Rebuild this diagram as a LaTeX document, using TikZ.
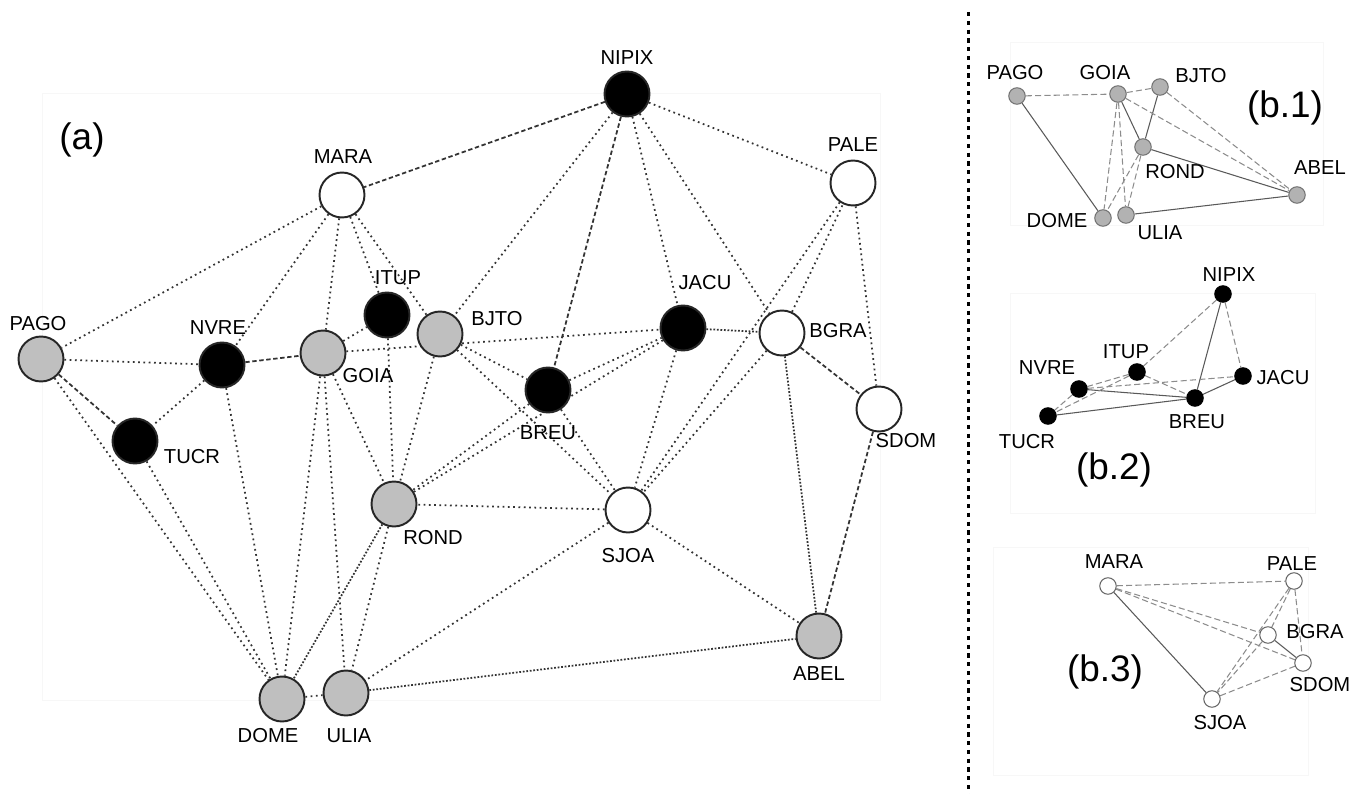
\documentclass[tikz,border=0pt]{standalone}
\usepackage{fontspec}
\setmainfont{Liberation Sans}
\usetikzlibrary{backgrounds}

\begin{document}
\begin{tikzpicture}[x=0.02cm, y=-0.02cm,
  stn/.style={circle, draw=black!85, line width=1.1pt, minimum size=0.9cm, inner sep=0pt},
  gnode/.style={stn, fill=black!25},
  bnode/.style={stn, fill=black},
  wnode/.style={stn, fill=white},
  sml/.style={circle, minimum size=0.33cm, inner sep=0pt, line width=0.6pt},
  gdot/.style={sml, draw=black!55, fill=black!30},
  bdot/.style={sml, draw=black, fill=black},
  wdot/.style={sml, draw=black!60, fill=white},
  lbl/.style={inner sep=0pt, font=\fontsize{11.5}{13}\selectfont},
  panel/.style={inner sep=0pt, font=\fontsize{21}{25}\selectfont},
  lnk/.style={black!80, line width=1pt, dotted},
  lnkd/.style={black!80, line width=1pt, dash pattern=on 2.5pt off 1.5pt},
  lnkx/.style={black!80, line width=1pt, densely dotted},
  sol/.style={black!65, line width=0.6pt},
  dsh/.style={black!45, line width=0.6pt, dash pattern=on 3.5pt off 1.8pt},
  frm/.style={black!3, line width=0.5pt}]
  \useasboundingbox (0,0) rectangle (1357,794);

  % (a) full network
  \node[panel] (ta) at (82,140) {(a)};
  \foreach \n/\x/\y in {PAGO/41/359, GOIA/323/353, BJTO/440/334, ROND/394/504,
                        DOME/282/699, ULIA/346/693, ABEL/819/636}
    \node[gnode] (\n) at (\x,\y) {};
  \foreach \n/\x/\y in {NIPIX/627/94, NVRE/222/365, ITUP/387/315, JACU/683/328,
                        BREU/548/390, TUCR/135/441}
    \node[bnode] (\n) at (\x,\y) {};
  \foreach \n/\x/\y in {MARA/342/195, PALE/853/183, BGRA/782/333, SDOM/879/409, SJOA/628/510}
    \node[wnode] (\n) at (\x,\y) {};

  \foreach \n/\x/\y in {NIPIX/627/58, MARA/343/157, PALE/853/145, PAGO/38/324,
                        NVRE/218/328, GOIA/368/376, ITUP/398/278, BJTO/497/319,
                        JACU/705/283, BGRA/838/331, BREU/548/433, TUCR/192/457,
                        SDOM/906/441, ROND/433/538, SJOA/628/556, ABEL/819/674,
                        DOME/268/736, ULIA/349/736}
    \node[lbl] (l\n) at (\x,\y) {\n};

  \begin{pgfonlayer}{background}
    \draw[frm] (42,93) rectangle (880,700);
    \foreach \a/\b in {NIPIX/BJTO, NIPIX/JACU, NIPIX/BGRA, NIPIX/PALE,
                       MARA/PAGO, MARA/NVRE, MARA/GOIA, MARA/ITUP, MARA/BJTO,
                       PAGO/NVRE, PAGO/DOME, NVRE/TUCR, NVRE/DOME, TUCR/DOME,
                       GOIA/ITUP, GOIA/JACU, GOIA/ROND, GOIA/DOME, GOIA/ULIA,
                       ITUP/ROND, BJTO/ROND, BJTO/BREU, BJTO/SJOA,
                       BREU/JACU, BREU/SJOA, BREU/ROND, JACU/SJOA, JACU/ROND,
                       BGRA/PALE, BGRA/SJOA, PALE/SJOA, PALE/SDOM,
                       SJOA/ROND, SJOA/ULIA, SJOA/ABEL, ROND/ULIA, DOME/ULIA}
      \draw[lnk] (\a) -- (\b);
    \foreach \a/\b in {NIPIX/MARA, NIPIX/BREU, NVRE/GOIA, PAGO/TUCR, BGRA/SDOM, SDOM/ABEL}
      \draw[lnkd] (\a) -- (\b);
    \foreach \a/\b in {JACU/BGRA, BGRA/ABEL, ULIA/ABEL, ROND/DOME}
      \draw[lnkx] (\a) -- (\b);
  \end{pgfonlayer}

  % divider
  \draw[line width=1.7pt, dash pattern=on 2.4pt off 2.6pt] (968,12) -- (968,794);

  % (b.1) grey cluster
  \node[panel] (tb1) at (1285,108) {(b.1)};
  \foreach \n/\x/\y in {PAGO/1017/96, GOIA/1118/94, BJTO/1160/87, ROND/1143/147,
                        ABEL/1297/195, DOME/1103/218, ULIA/1126/215}
    \node[gdot] (b1\n) at (\x,\y) {};
  \foreach \n/\x/\y in {PAGO/1015/73, GOIA/1105/73, BJTO/1201/76, ROND/1175/172,
                        ABEL/1320/168, DOME/1057/221, ULIA/1160/233}
    \node[lbl] (lb1\n) at (\x,\y) {\n};

  % (b.2) black cluster
  \node[panel] (tb2) at (1114,470) {(b.2)};
  \foreach \n/\x/\y in {NIPIX/1223/294, ITUP/1137/372, NVRE/1079/389, JACU/1243/376,
                        BREU/1195/398, TUCR/1048/416}
    \node[bdot] (b2\n) at (\x,\y) {};
  \foreach \n/\x/\y in {NIPIX/1229/275, ITUP/1126/352, NVRE/1047/368, JACU/1283/378,
                        BREU/1197/422, TUCR/1027/442}
    \node[lbl] (lb2\n) at (\x,\y) {\n};

  % (b.3) white cluster
  \node[panel] (tb3) at (1105,672) {(b.3)};
  \foreach \n/\x/\y in {MARA/1108/586, PALE/1294/581, BGRA/1268/635, SDOM/1303/663,
                        SJOA/1212/699}
    \node[wdot] (b3\n) at (\x,\y) {};
  \foreach \n/\x/\y in {MARA/1114/562, PALE/1292/564, BGRA/1315/632, SDOM/1320/685,
                        SJOA/1220/723}
    \node[lbl] (lb3\n) at (\x,\y) {\n};

  \begin{pgfonlayer}{background}
    \draw[frm] (1010,42) rectangle (1323,225);
    \draw[frm] (1010,293) rectangle (1315,513);
    \draw[frm] (993,547) rectangle (1308,775);
    \foreach \a/\b in {PAGO/DOME, GOIA/ROND, BJTO/ROND, ROND/ABEL, ULIA/ABEL}
      \draw[sol] (b1\a) -- (b1\b);
    \foreach \a/\b in {PAGO/GOIA, GOIA/BJTO, GOIA/ABEL, GOIA/DOME, GOIA/ULIA,
                       BJTO/ABEL, ROND/DOME, ROND/ULIA}
      \draw[dsh] (b1\a) -- (b1\b);
    \foreach \a/\b in {NIPIX/BREU, NVRE/BREU, TUCR/BREU, BREU/JACU}
      \draw[sol] (b2\a) -- (b2\b);
    \foreach \a/\b in {NIPIX/ITUP, NIPIX/JACU, ITUP/NVRE, ITUP/TUCR, ITUP/BREU,
                       NVRE/JACU, NVRE/TUCR}
      \draw[dsh] (b2\a) -- (b2\b);
    \foreach \a/\b in {MARA/SJOA, BGRA/SDOM}
      \draw[sol] (b3\a) -- (b3\b);
    \foreach \a/\b in {MARA/PALE, MARA/BGRA, MARA/SDOM, PALE/BGRA, PALE/SJOA,
                       PALE/SDOM, BGRA/SJOA, SJOA/SDOM}
      \draw[dsh] (b3\a) -- (b3\b);
  \end{pgfonlayer}
\end{tikzpicture}
\end{document}
